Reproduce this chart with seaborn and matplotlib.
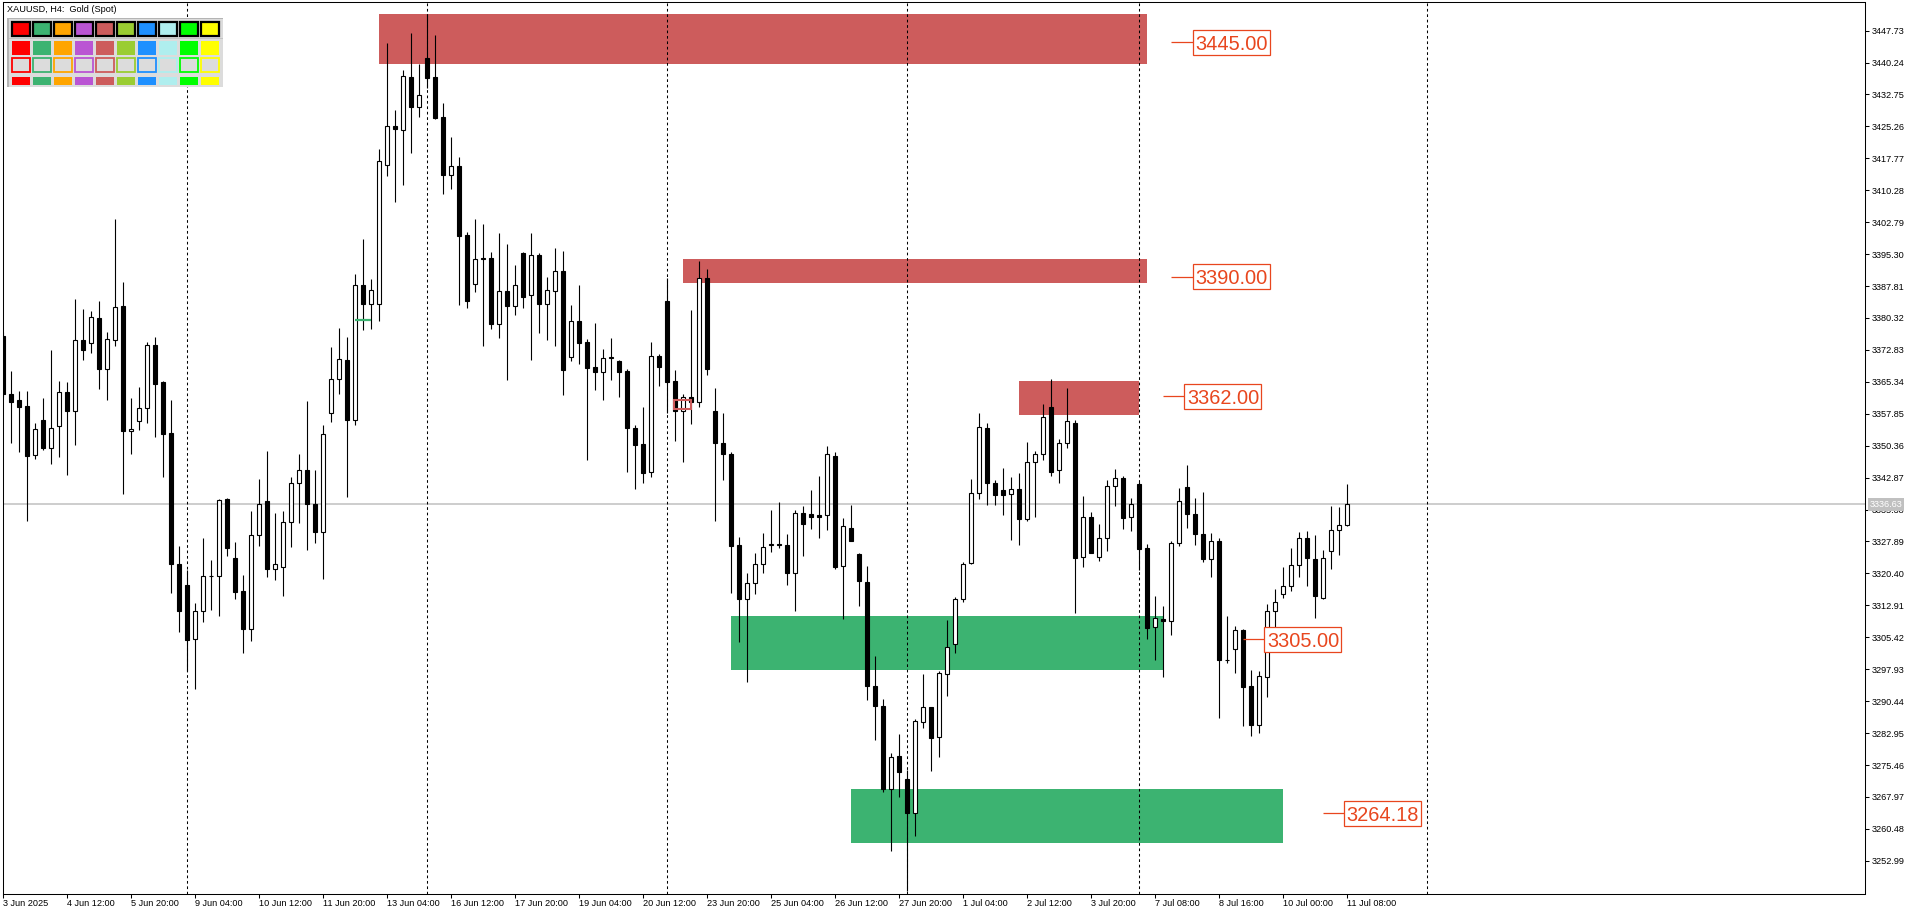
import matplotlib
matplotlib.use('Agg')
import matplotlib.pyplot as plt
import matplotlib.transforms as mtransforms
from matplotlib.patches import Rectangle
import seaborn as sns
import numpy as np

sns.set_theme(style="white")
plt.rcParams['font.family'] = ['Liberation Sans', 'DejaVu Sans']

# XAUUSD H4, bar 0 = 3 Jun 04:00 ... bar 168 = 11 Jul 08:00
opens = [3376.1, 3362.5, 3361.1, 3359.7, 3348.1, 3356.5, 3349.9, 3354.9, 3362.9, 3358.6,
         3375.1, 3374.4, 3380.2, 3368.4, 3375.1, 3383.1, 3353.7, 3356.1, 3359.1, 3373.9,
         3365.3, 3353.3, 3322.5, 3317.6, 3304.9, 3311.5, 3319.9, 3319.7, 3337.9, 3323.9,
         3316.3, 3307.3, 3329.3, 3337.3, 3321.4, 3321.8, 3332.4, 3341.5, 3344.6, 3336.8,
         3330.2, 3358.0, 3365.9, 3370.4, 3356.5, 3388.0, 3383.5, 3383.7, 3416.1, 3425.4,
         3424.3, 3436.8, 3429.9, 3441.2, 3436.8, 3427.5, 3413.9, 3416.0, 3399.8, 3388.2,
         3394.3, 3394.3, 3379.0, 3386.6, 3383.1, 3395.5, 3385.6, 3395.0, 3383.7, 3386.7,
         3391.3, 3371.2, 3379.5, 3374.6, 3368.8, 3367.7, 3370.9, 3370.2, 3367.8, 3354.4,
         3350.7, 3344.3, 3371.3, 3384.3, 3365.5, 3358.4, 3361.9, 3360.5, 3389.6, 3358.4,
         3350.9, 3348.4, 3327.0, 3314.3, 3318.1, 3322.5, 3327.1, 3327.2, 3327.0, 3320.6,
         3334.5, 3334.3, 3334.0, 3334.0, 3348.0, 3322.1, 3331.0, 3325.0, 3318.4, 3294.0,
         3289.3, 3269.9, 3277.6, 3272.2, 3264.3, 3285.5, 3289.0, 3282.0, 3296.7, 3303.8,
         3314.3, 3322.9, 3339.2, 3354.4, 3341.5, 3339.9, 3339.0, 3340.1, 3333.2, 3346.5,
         3348.3, 3359.4, 3344.6, 3350.9, 3355.8, 3324.3, 3333.6, 3324.3, 3328.6, 3340.8,
         3342.9, 3333.6, 3341.3, 3326.3, 3307.8, 3309.6, 3309.2, 3327.5, 3340.6, 3334.3,
         3329.6, 3323.7, 3328.0, 3300.0, 3302.6, 3307.1, 3293.9, 3284.9, 3296.2, 3311.5,
         3315.5, 3317.4, 3322.3, 3328.6, 3323.8, 3314.7, 3325.6, 3330.5, 3331.7]
highs = [3377.0, 3367.9, 3363.2, 3363.2, 3355.8, 3361.5, 3372.8, 3365.5, 3365.3, 3384.8,
         3382.4, 3382.0, 3384.3, 3377.0, 3403.5, 3388.8, 3361.6, 3364.1, 3374.6, 3375.9,
         3365.5, 3361.1, 3326.8, 3321.2, 3313.4, 3328.6, 3323.5, 3337.8, 3338.2, 3327.8,
         3320.0, 3335.0, 3342.6, 3349.1, 3334.6, 3335.0, 3343.0, 3348.4, 3360.8, 3344.7,
         3355.2, 3373.5, 3378.0, 3375.9, 3390.6, 3398.8, 3389.5, 3420.0, 3444.8, 3429.1,
         3438.5, 3447.2, 3439.9, 3451.6, 3446.7, 3430.7, 3422.8, 3418.1, 3400.4, 3403.5,
         3402.4, 3395.7, 3400.2, 3397.7, 3392.7, 3395.8, 3400.2, 3395.5, 3389.9, 3396.7,
         3396.0, 3383.3, 3388.0, 3375.4, 3379.1, 3373.0, 3375.6, 3370.4, 3368.3, 3355.1,
         3359.4, 3374.7, 3371.8, 3389.6, 3368.1, 3362.5, 3382.2, 3393.7, 3391.8, 3363.9,
         3358.1, 3348.8, 3328.9, 3320.4, 3325.1, 3329.9, 3335.3, 3337.2, 3329.6, 3335.3,
         3336.2, 3340.0, 3343.3, 3350.3, 3348.9, 3333.3, 3336.5, 3325.3, 3322.2, 3301.0,
         3291.0, 3278.3, 3282.7, 3274.3, 3286.3, 3296.8, 3289.1, 3297.4, 3309.5, 3314.9,
         3323.0, 3342.6, 3358.0, 3355.7, 3342.2, 3345.1, 3343.0, 3343.9, 3351.2, 3349.1,
         3360.1, 3366.0, 3351.9, 3363.9, 3356.5, 3338.6, 3334.7, 3332.0, 3342.3, 3344.9,
         3343.3, 3338.1, 3341.9, 3327.3, 3315.0, 3312.8, 3327.9, 3340.4, 3345.8, 3338.1,
         3339.5, 3329.8, 3328.6, 3310.4, 3308.1, 3307.4, 3297.7, 3297.5, 3313.2, 3316.8,
         3321.9, 3326.4, 3330.2, 3330.4, 3329.4, 3325.9, 3336.1, 3336.0, 3341.4]
lows = [3361.8, 3350.9, 3348.8, 3332.8, 3347.2, 3349.4, 3346.1, 3347.6, 3343.5, 3350.6,
        3370.5, 3372.0, 3363.7, 3361.1, 3373.7, 3339.1, 3348.4, 3354.0, 3355.8, 3352.5,
        3343.1, 3315.9, 3306.7, 3297.4, 3293.4, 3309.1, 3311.8, 3310.3, 3324.6, 3314.3,
        3301.7, 3304.5, 3326.8, 3319.6, 3318.9, 3315.2, 3326.7, 3332.3, 3326.0, 3327.6,
        3319.2, 3356.0, 3362.6, 3338.4, 3355.1, 3377.6, 3377.8, 3379.5, 3413.7, 3407.6,
        3411.4, 3419.1, 3427.4, 3434.2, 3426.9, 3409.5, 3410.6, 3383.3, 3382.6, 3386.4,
        3373.8, 3377.8, 3375.7, 3365.8, 3381.0, 3382.7, 3370.5, 3376.9, 3375.2, 3373.7,
        3362.3, 3370.3, 3369.5, 3347.0, 3363.4, 3361.1, 3365.8, 3361.9, 3344.3, 3340.1,
        3341.7, 3343.1, 3364.4, 3358.1, 3351.5, 3346.6, 3355.5, 3359.5, 3366.9, 3332.8,
        3342.2, 3315.7, 3304.2, 3295.0, 3315.5, 3320.6, 3325.5, 3326.3, 3317.8, 3311.7,
        3324.5, 3330.8, 3328.8, 3330.7, 3321.5, 3309.6, 3327.9, 3312.8, 3290.6, 3281.3,
        3269.2, 3255.4, 3268.0, 3246.0, 3258.8, 3284.2, 3274.1, 3277.4, 3291.7, 3301.8,
        3313.6, 3322.5, 3337.9, 3336.5, 3336.5, 3334.2, 3328.2, 3327.1, 3332.8, 3333.7,
        3347.0, 3343.3, 3341.7, 3349.9, 3311.2, 3321.8, 3325.1, 3323.2, 3325.7, 3336.3,
        3330.9, 3330.4, 3321.2, 3304.9, 3300.1, 3296.0, 3306.0, 3326.9, 3331.0, 3327.1,
        3323.0, 3319.6, 3286.6, 3299.3, 3297.0, 3284.5, 3282.3, 3283.0, 3291.5, 3307.9,
        3314.7, 3316.3, 3319.6, 3317.5, 3310.0, 3314.3, 3321.4, 3324.7, 3331.6]
closes = [3362.4, 3360.7, 3359.5, 3348.0, 3354.2, 3349.9, 3354.4, 3362.9, 3358.6, 3375.1,
          3372.7, 3380.5, 3368.4, 3375.3, 3382.8, 3353.9, 3354.2, 3359.1, 3373.9, 3364.9,
          3353.2, 3322.5, 3311.7, 3304.8, 3311.5, 3319.7, 3319.7, 3337.6, 3326.3, 3316.1,
          3307.3, 3329.4, 3336.8, 3321.4, 3322.5, 3332.4, 3341.5, 3344.6, 3336.8, 3330.2,
          3353.0, 3365.9, 3370.6, 3356.5, 3388.0, 3383.5, 3386.8, 3417.1, 3425.3, 3424.6,
          3437.0, 3429.9, 3432.7, 3436.5, 3427.2, 3413.9, 3415.9, 3399.6, 3384.2, 3394.2,
          3394.1, 3379.0, 3386.6, 3383.1, 3388.0, 3385.3, 3395.0, 3383.7, 3386.8, 3391.3,
          3368.2, 3379.5, 3374.5, 3368.7, 3367.7, 3370.9, 3371.0, 3367.7, 3354.4, 3350.6,
          3344.0, 3371.3, 3368.9, 3365.4, 3358.4, 3361.7, 3360.5, 3389.6, 3368.4, 3351.1,
          3348.3, 3326.9, 3314.3, 3318.1, 3322.5, 3326.5, 3327.2, 3327.1, 3320.6, 3334.5,
          3332.1, 3333.7, 3333.7, 3348.3, 3321.9, 3331.5, 3328.1, 3318.7, 3293.9, 3289.2,
          3269.8, 3277.4, 3273.9, 3264.3, 3285.8, 3289.0, 3281.9, 3297.0, 3303.1, 3314.3,
          3322.6, 3339.2, 3354.7, 3341.7, 3338.9, 3338.9, 3340.1, 3333.2, 3346.5, 3348.3,
          3357.0, 3344.3, 3350.9, 3356.1, 3324.1, 3333.6, 3325.3, 3328.6, 3340.8, 3342.9,
          3333.5, 3336.8, 3326.2, 3307.7, 3309.9, 3309.2, 3327.5, 3337.5, 3334.3, 3329.6,
          3323.7, 3327.9, 3300.2, 3300.1, 3307.1, 3293.8, 3284.9, 3296.3, 3311.5, 3313.6,
          3317.4, 3322.3, 3328.6, 3323.9, 3315.0, 3323.9, 3330.7, 3331.7, 3336.6]

# time axis labels (every 8 bars)
date_bars = list(range(0, 169, 8))
date_labels = ['3 Jun 2025', '4 Jun 12:00', '5 Jun 20:00', '9 Jun 04:00', '10 Jun 12:00',
               '11 Jun 20:00', '13 Jun 04:00', '16 Jun 12:00', '17 Jun 20:00', '19 Jun 04:00',
               '20 Jun 12:00', '23 Jun 20:00', '25 Jun 04:00', '26 Jun 12:00', '27 Jun 20:00',
               '1 Jul 04:00', '2 Jul 12:00', '3 Jul 20:00', '7 Jul 08:00', '8 Jul 16:00',
               '10 Jul 00:00', '11 Jul 08:00']
week_separators = [23, 53, 83, 113, 142, 178]

# price scale
price_ticks = [3447.73 - 7.49 * k for k in range(27)]
last_price = 3336.63

# supply / demand zones
zone_start = [47, 85, 127, 91, 106]
zone_end = [143, 143, 142, 145, 160]
zone_low = [3439.98, 3388.60, 3357.56, 3297.75, 3257.24]
zone_high = [3451.63, 3394.15, 3365.54, 3310.41, 3269.83]
zone_color = ['#CD5C5C', '#CD5C5C', '#CD5C5C', '#3CB371', '#3CB371']

# level labels
level_values = [3445.00, 3390.00, 3362.00, 3305.00, 3264.18]
level_line_start = [145.96, 145.96, 144.96, 155.0, 164.96]
level_box_start = [148.75, 148.75, 147.7, 157.7, 167.7]

palette = ['#FF0000', '#3CB371', '#FFA500', '#BA55D3', '#CD5C5C',
           '#9ACD32', '#1E90FF', '#AFEEEE', '#00FF00', '#FFFF00']

W, H = 1920, 915
fig = plt.figure(figsize=(19.2, 9.15), dpi=100)
fig.patch.set_facecolor('white')
ax = fig.add_axes([2.7 / W, 1 - 894 / H, (1864.5 - 2.7) / W, (894 - 2.3) / H])
ax.set_facecolor('white')

o = np.array(opens)
h = np.array(highs)
l = np.array(lows)
c = np.array(closes)
x = np.arange(len(o))
up = c >= o

# zones behind everything
for x0, x1, lo, hi, col in zip(zone_start, zone_end, zone_low, zone_high, zone_color):
    ax.add_patch(Rectangle((x0, lo), x1 - x0, hi - lo, facecolor=col, edgecolor='none', zorder=1))

ax.axhline(last_price, color='#C0C0C0', lw=1.1, zorder=1.5)
for b in week_separators:
    ax.axvline(b, color='black', lw=0.75, ls=(0, (2.6, 2.6)), zorder=2)

# candles
ax.vlines(x, l, h, color='black', lw=0.8, zorder=3)
body_bottom = np.minimum(o, c)
body_height = np.maximum(np.abs(c - o), 0.2)
ax.bar(x, body_height, bottom=body_bottom, width=0.55,
       color=np.where(up, 'white', 'black'), edgecolor='black', linewidth=0.8, zorder=4)

# small marks
ax.hlines(3379.85, 44, 46.05, color='#3CB371', lw=1.6, zorder=5)
ax.add_patch(Rectangle((83.9, 3358.9), 2.15, 2.1, fill=False, edgecolor='#CD5C5C', lw=1.5, zorder=5))

# level labels
lab_col = '#E8461E'
box_w = 9.62
box_h = 25 * 0.23457
for val, ls_, bs in zip(level_values, level_line_start, level_box_start):
    ax.plot([ls_, bs], [val, val], color=lab_col, lw=0.9, zorder=6, solid_capstyle='butt')
    ax.add_patch(Rectangle((bs, val - box_h / 2), box_w, box_h, facecolor='white',
                           edgecolor=lab_col, lw=0.9, zorder=6))
    ax.text(bs + box_w / 2, val, f'{val:.2f}', color=lab_col, fontsize=14.4,
            ha='center', va='center_baseline', zorder=7)

ax.set_xlim(-0.02, -0.02 + (1864.5 - 2.7) / 8)
ax.set_ylim(3245.20, 3454.37)

# axes and ticks
ax.yaxis.tick_right()
ax.set_yticks(price_ticks)
ax.set_yticklabels([f'{v:.2f}' for v in price_ticks])
ax.set_xticks(date_bars)
ax.set_xticklabels(date_labels, ha='left')
ax.tick_params(axis='y', which='both', right=True, left=False, direction='out', length=3,
               width=0.75, color='black', labelsize=6.6, pad=2.5, labelcolor='black')
ax.tick_params(axis='x', which='both', bottom=True, direction='out', length=3,
               width=0.75, color='black', labelsize=6.6, pad=0.8, labelcolor='black')
for s in ax.spines.values():
    s.set_color('black')
    s.set_linewidth(0.75)
ax.grid(False)

trans = mtransforms.blended_transform_factory(ax.transAxes, ax.transData)
ax.text(1.0029, last_price, '3336.63', transform=trans, color='white', fontsize=6.6,
        ha='left', va='center', clip_on=False, zorder=10,
        bbox=dict(boxstyle='square,pad=0.2', facecolor='#C0C0C0', edgecolor='none'))

# title
fig.text(6.7 / W, 1 - 9.5 / H, 'XAUUSD, H4:  Gold (Spot)', fontsize=6.6, ha='left',
         va='center', color='black')


def px_rect(x0, y0, x1, y1, **kw):
    r = Rectangle((x0 / W, 1 - y1 / H), (x1 - x0) / W, (y1 - y0) / H,
                  transform=fig.transFigure, zorder=20, **kw)
    fig.add_artist(r)


# colour panel
px_rect(7.3, 17.7, 222.7, 87.3, facecolor='#DCDCDC', edgecolor='none')
px_rect(7.3, 17.7, 222.7, 19.4, facecolor='#B4B4B4', edgecolor='none')
px_rect(7.3, 17.7, 9.0, 87.3, facecolor='#B4B4B4', edgecolor='none')
px_rect(9.0, 37.7, 222.7, 39.0, facecolor='#C4C4C4', edgecolor='none')
for j, col in enumerate(palette):
    x0 = 11.7 + 21 * j
    x1 = x0 + 18.3
    px_rect(x0, 21.6, x1, 36.4, facecolor=col, edgecolor='black', lw=1.6)
    px_rect(x0, 40.7, x1, 55.0, facecolor=col, edgecolor='none')
    px_rect(x0 + 0.5, 58.3, x1 - 0.5, 71.5, facecolor='#DCDCDC', edgecolor=col, lw=1.3)
    px_rect(x0, 77.0, x1, 85.0, facecolor=col, edgecolor='none')

fig.savefig('out.png', dpi=100, facecolor='white')
